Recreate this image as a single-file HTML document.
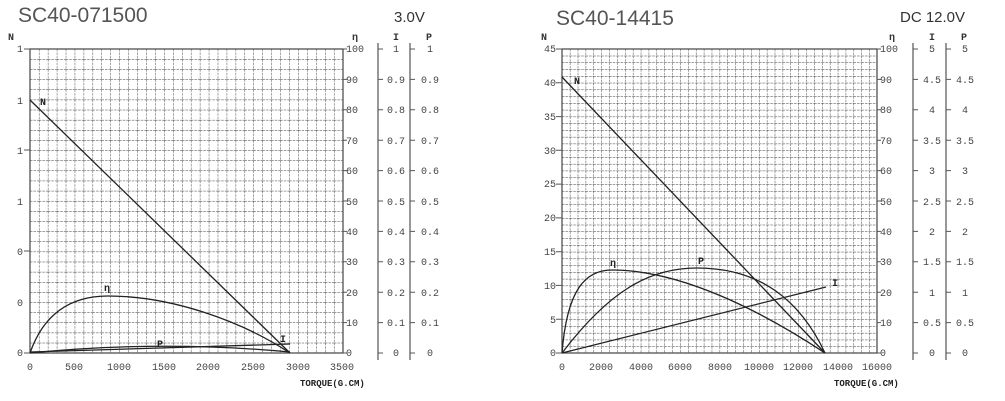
<!DOCTYPE html><html><head><meta charset="utf-8"><style>
body{margin:0;background:#fff;}
svg{display:block;font-family:"Liberation Mono",monospace;}
</style></head><body>
<svg width="1005" height="401" xmlns="http://www.w3.org/2000/svg">
<defs>
<pattern id="gl" x="30" y="49" width="8.94" height="10.13" patternUnits="userSpaceOnUse">
<path d="M0,0V10.13M0,0H8.94" stroke="#333" stroke-width="0.9" stroke-dasharray="2.5,1" fill="none"/>
</pattern>
<pattern id="gr" x="562" y="49" width="7.88" height="6.76" patternUnits="userSpaceOnUse">
<path d="M0,0V6.76M0,0H7.88" stroke="#333" stroke-width="0.9" stroke-dasharray="2.5,1" fill="none"/>
</pattern>
</defs>
<g font-family="Liberation Sans,sans-serif" fill="#555">
<text x="18" y="22" font-size="21">SC40-071500</text>
<text x="394" y="22" font-size="15" fill="#333">3.0V</text>
<text x="556" y="25" font-size="21">SC40-14415</text>
<text x="900" y="22" font-size="15" fill="#333">DC 12.0V</text>
</g>
<!-- LEFT -->
<rect x="30" y="49" width="313" height="304" fill="url(#gl)"/>
<rect x="30" y="49" width="313" height="304" fill="none" stroke="#444" stroke-width="1.2"/>
<g font-size="10" fill="#333" font-weight="bold"><text x="8" y="40">N</text><text x="352" y="40">η</text><text x="393" y="40">I</text><text x="426" y="40">P</text></g>
<g font-size="10" fill="#444">
<text x="17" y="52">1</text><text x="17" y="104">1</text><text x="17" y="154">1</text><text x="17" y="205">1</text><text x="17" y="255">0</text><text x="17" y="306">0</text><text x="17" y="356">0</text>
<g stroke="#555"><path d="M24,49H30M24,150H30M24,251H30M24,353H30"/></g>
</g>
<g font-size="10" fill="#444" text-anchor="middle">
<text x="30" y="370">0</text><text x="74" y="370">500</text><text x="119" y="370">1000</text><text x="164" y="370">1500</text><text x="208" y="370">2000</text><text x="253" y="370">2500</text><text x="298" y="370">3000</text><text x="342" y="370">3500</text>
</g>
<text x="300" y="386" font-size="9" font-weight="bold" fill="#222">TORQUE(G.CM)</text>
<g font-size="10" fill="#444">
<text x="346" y="52">100</text><text x="346" y="83">90</text><text x="346" y="113">80</text><text x="346" y="144">70</text><text x="346" y="174">60</text><text x="346" y="205">50</text><text x="346" y="235">40</text><text x="346" y="265">30</text><text x="346" y="296">20</text><text x="346" y="326">10</text><text x="346" y="356">0</text>
</g>
<g stroke="#555"><path d="M343,49h4M343,79.4h4M343,109.8h4M343,140.2h4M343,170.6h4M343,201h4M343,231.4h4M343,261.8h4M343,292.2h4M343,322.6h4M343,353h4"/>
<path d="M378,43V360M410,43V360" stroke-width="1.2"/>
<path d="M378,49h5M378,79.4h5M378,109.8h5M378,140.2h5M378,170.6h5M378,201h5M378,231.4h5M378,261.8h5M378,292.2h5M378,322.6h5M378,353h5M410,49h5M410,79.4h5M410,109.8h5M410,140.2h5M410,170.6h5M410,201h5M410,231.4h5M410,261.8h5M410,292.2h5M410,322.6h5M410,353h5"/></g>
<g font-size="10" fill="#444" text-anchor="middle">
<text x="396" y="52">1</text><text x="396" y="83">0.9</text><text x="396" y="113">0.8</text><text x="396" y="144">0.7</text><text x="396" y="174">0.6</text><text x="396" y="205">0.5</text><text x="396" y="235">0.4</text><text x="396" y="265">0.3</text><text x="396" y="296">0.2</text><text x="396" y="326">0.1</text><text x="396" y="356">0</text>
<text x="430" y="52">1</text><text x="430" y="83">0.9</text><text x="430" y="113">0.8</text><text x="430" y="144">0.7</text><text x="430" y="174">0.6</text><text x="430" y="205">0.5</text><text x="430" y="235">0.4</text><text x="430" y="265">0.3</text><text x="430" y="296">0.2</text><text x="430" y="326">0.1</text><text x="430" y="356">0</text>
</g>
<g fill="none" stroke="#222" stroke-width="1.3">
<path d="M30,100L290,353"/>
<path d="M30,353C45,310 75,296 108,296C170,296 240,320 290,353"/>
<path d="M30,353Q160,340 290,352"/>
<path d="M30,352L290,344"/>
</g>
<g font-size="10" font-weight="bold" fill="#222"><text x="40" y="105">N</text><text x="104" y="291">η</text><text x="157" y="347">P</text><text x="280" y="342">I</text></g>
<!-- RIGHT -->
<rect x="562" y="49" width="315" height="304" fill="url(#gr)"/>
<rect x="562" y="49" width="315" height="304" fill="none" stroke="#444" stroke-width="1.2"/>
<g font-size="10" fill="#333" font-weight="bold"><text x="541" y="40">N</text><text x="889" y="40">η</text><text x="929" y="40">I</text><text x="961" y="40">P</text></g>
<g font-size="10" fill="#444" text-anchor="end">
<text x="556" y="52">45</text><text x="556" y="86">40</text><text x="556" y="120">35</text><text x="556" y="154">30</text><text x="556" y="187">25</text><text x="556" y="221">20</text><text x="556" y="255">15</text><text x="556" y="289">10</text><text x="556" y="323">5</text><text x="556" y="356">0</text>
</g>
<g stroke="#555"><path d="M556,49h6M556,82.8h6M556,116.6h6M556,150.3h6M556,184.1h6M556,217.9h6M556,251.7h6M556,285.4h6M556,319.2h6M556,353h6"/></g>
<g font-size="10" fill="#444" text-anchor="middle">
<text x="562" y="370">0</text><text x="601" y="370">2000</text><text x="641" y="370">4000</text><text x="680" y="370">6000</text><text x="720" y="370">8000</text><text x="759" y="370">10000</text><text x="798" y="370">12000</text><text x="838" y="370">14000</text><text x="877" y="370">16000</text>
</g>
<text x="834" y="386" font-size="9" font-weight="bold" fill="#222">TORQUE(G.CM)</text>
<g font-size="10" fill="#444">
<text x="880" y="52">100</text><text x="880" y="83">90</text><text x="880" y="113">80</text><text x="880" y="144">70</text><text x="880" y="174">60</text><text x="880" y="205">50</text><text x="880" y="235">40</text><text x="880" y="265">30</text><text x="880" y="296">20</text><text x="880" y="326">10</text><text x="880" y="356">0</text>
</g>
<g stroke="#555"><path d="M877,49h4M877,79.4h4M877,109.8h4M877,140.2h4M877,170.6h4M877,201h4M877,231.4h4M877,261.8h4M877,292.2h4M877,322.6h4M877,353h4"/>
<path d="M913,43V360M946,43V360" stroke-width="1.2"/>
<path d="M913,49h5M913,79.4h5M913,109.8h5M913,140.2h5M913,170.6h5M913,201h5M913,231.4h5M913,261.8h5M913,292.2h5M913,322.6h5M913,353h5M946,49h5M946,79.4h5M946,109.8h5M946,140.2h5M946,170.6h5M946,201h5M946,231.4h5M946,261.8h5M946,292.2h5M946,322.6h5M946,353h5"/></g>
<g font-size="10" fill="#444" text-anchor="middle">
<text x="932" y="52">5</text><text x="932" y="83">4.5</text><text x="932" y="113">4</text><text x="932" y="144">3.5</text><text x="932" y="174">3</text><text x="932" y="205">2.5</text><text x="932" y="235">2</text><text x="932" y="265">1.5</text><text x="932" y="296">1</text><text x="932" y="326">0.5</text><text x="932" y="356">0</text>
<text x="965" y="52">5</text><text x="965" y="83">4.5</text><text x="965" y="113">4</text><text x="965" y="144">3.5</text><text x="965" y="174">3</text><text x="965" y="205">2.5</text><text x="965" y="235">2</text><text x="965" y="265">1.5</text><text x="965" y="296">1</text><text x="965" y="326">0.5</text><text x="965" y="356">0</text>
</g>
<g fill="none" stroke="#222" stroke-width="1.3">
<path d="M562,77L825,353"/>
<path d="M562,353C567,290 585,270 612,270C680,270 760,310 825,353"/>
<path d="M562,353C610,290 650,268 697,268C760,268 800,300 825,353"/>
<path d="M562,353L826,287"/>
</g>
<g font-size="10" font-weight="bold" fill="#222"><text x="574" y="84">N</text><text x="610" y="266">η</text><text x="698" y="264">P</text><text x="832" y="286">I</text></g>
</svg>
</body></html>
